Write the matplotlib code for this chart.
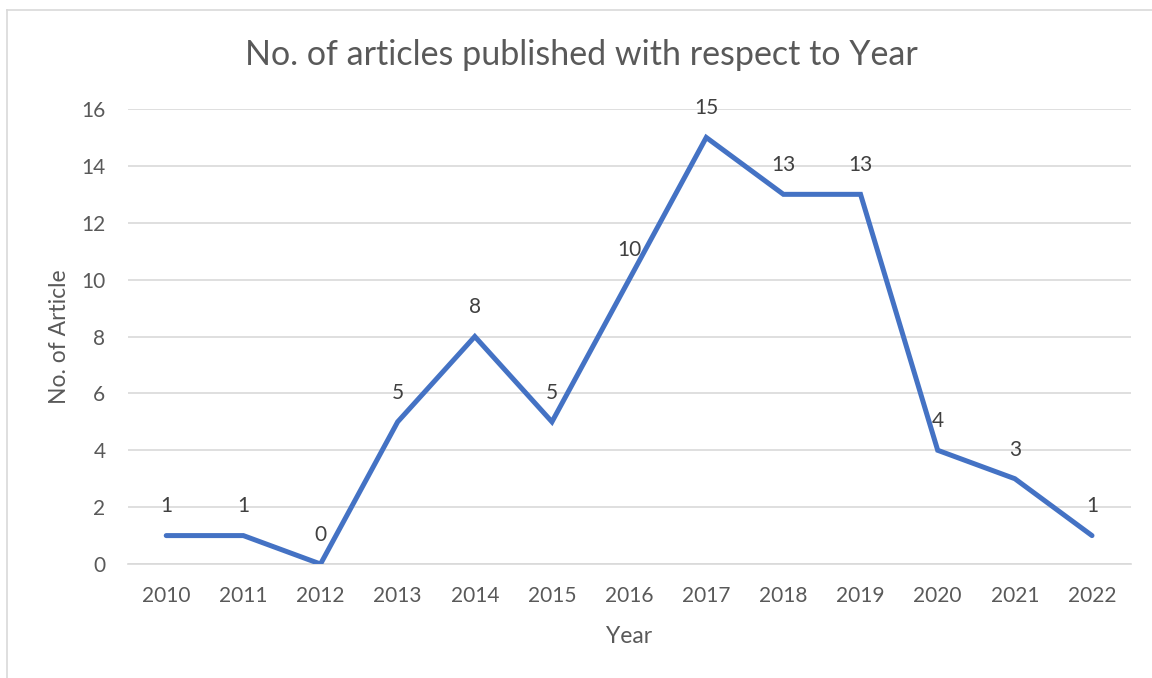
import matplotlib
matplotlib.use("Agg")
import matplotlib.pyplot as plt
from matplotlib.lines import Line2D

years = ["2010", "2011", "2012", "2013", "2014", "2015", "2016",
         "2017", "2018", "2019", "2020", "2021", "2022"]
articles = [1, 1, 0, 5, 8, 5, 10, 15, 13, 13, 4, 3, 1]
yticks = [0, 2, 4, 6, 8, 10, 12, 14, 16]

plt.rcParams['font.family'] = ['Lato', 'DejaVu Sans']
txt = '#595959'

fig = plt.figure(figsize=(11.52, 6.78), dpi=100)
ax = fig.add_axes([0.1108, 0.1681, 0.8706, 0.6711])

x = list(range(len(years)))
ax.plot(x, articles, color='#4472C4', linewidth=3.6, solid_capstyle='round',
        solid_joinstyle='miter', zorder=3)
for xi, v in zip(x, articles):
    ax.annotate(str(v), (xi, v), xytext=(0, 21), textcoords='offset points',
                ha='center', va='center', fontsize=15, color='#404040')

ax.set_xlim(-0.5, len(years) - 0.5)
ax.set_ylim(0, 16)
ax.set_xticks(x)
ax.set_xticklabels(years)
ax.set_yticks(yticks)
ax.tick_params(axis='both', length=0, labelsize=15, labelcolor=txt)
ax.tick_params(axis='x', pad=16)
ax.tick_params(axis='y', pad=16)
ax.grid(axis='y', color='#D9D9D9', linewidth=1.2)
ax.set_axisbelow(True)
for s in ['top', 'right', 'left']:
    ax.spines[s].set_visible(False)
ax.spines['bottom'].set_color('#D9D9D9')
ax.spines['bottom'].set_linewidth(1.2)

ax.set_xlabel('Year', fontsize=16.5, color=txt, labelpad=14)
ax.set_ylabel('No. of Article', fontsize=16.5, color=txt, labelpad=8)
fig.text(0.505, 0.919, 'No. of articles published with respect to Year',
         ha='center', va='center', fontsize=24.5, color=txt)

# chart-area border (left and top edges visible)
fig.add_artist(Line2D([7/1152, 7/1152], [0, 1 - 10/678], transform=fig.transFigure,
                      color='#D9D9D9', linewidth=1.2))
fig.add_artist(Line2D([7/1152, 1], [1 - 10/678, 1 - 10/678], transform=fig.transFigure,
                      color='#D9D9D9', linewidth=1.2))

fig.savefig('out.png', dpi=100)
